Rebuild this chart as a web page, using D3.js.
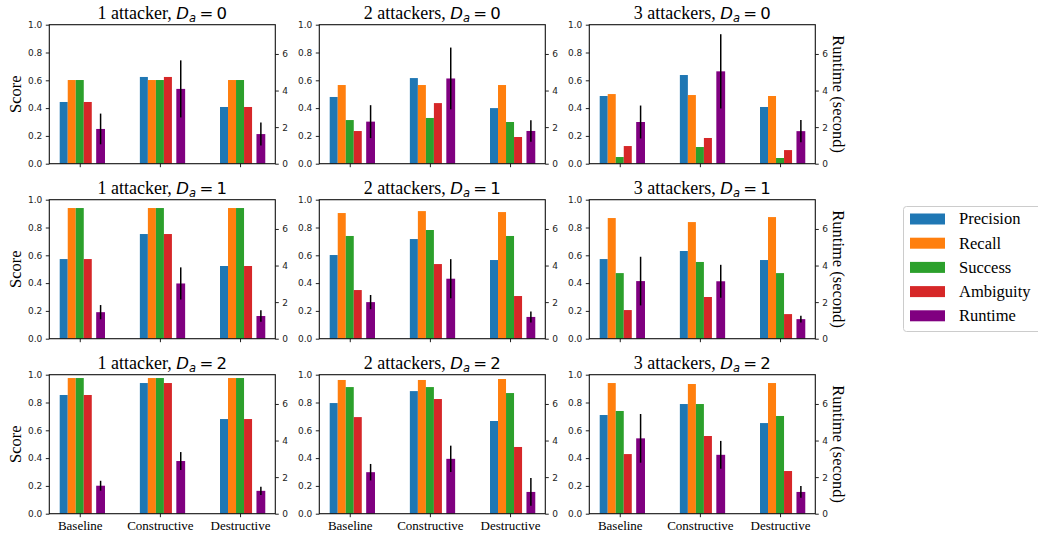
<!DOCTYPE html>
<html>
<head>
<meta charset="utf-8">
<script src="https://cdn.jsdelivr.net/npm/d3@7"></script>
<style>
  body { margin: 0; background: #fff; }
  svg { display: block; }
  .tick text { font-family: "DejaVu Sans", sans-serif; font-size: 9px; fill: #222; }
  .tick line { stroke: #222; stroke-width: 1; }
</style>
</head>
<body>
<svg width="1038" height="536"></svg>
<script>
const attackers = [1, 2, 3];
const distances = [0, 1, 2];
const methods = ["Baseline", "Constructive", "Destructive"];
const metrics = ["Precision", "Recall", "Success", "Ambiguity", "Runtime"];
const colors = ["#1f77b4", "#ff7f0e", "#2ca02c", "#d62728", "#800080"];
const scoreTicks = [0, 0.2, 0.4, 0.6, 0.8, 1.0];
const runtimeTicks = [0, 2, 4, 6];

// values indexed [D_a][attackers - 1][method]
const precision = [
  [[0.444, 0.624, 0.408], [0.480, 0.616, 0.400], [0.487, 0.638, 0.408]],
  [[0.573, 0.753, 0.523], [0.602, 0.717, 0.566], [0.573, 0.631, 0.566]],
  [[0.854, 0.940, 0.681], [0.796, 0.882, 0.667], [0.710, 0.789, 0.652]]
];
const recall = [
  [[0.602, 0.602, 0.602], [0.566, 0.566, 0.566], [0.501, 0.494, 0.487]],
  [[0.940, 0.940, 0.940], [0.904, 0.918, 0.911], [0.868, 0.839, 0.875]],
  [[0.976, 0.976, 0.976], [0.962, 0.962, 0.969], [0.940, 0.933, 0.940]]
];
const success = [
  [[0.602, 0.602, 0.602], [0.314, 0.329, 0.300], [0.048, 0.120, 0.041]],
  [[0.940, 0.940, 0.940], [0.739, 0.782, 0.739], [0.472, 0.552, 0.472]],
  [[0.976, 0.976, 0.976], [0.911, 0.911, 0.868], [0.739, 0.789, 0.703]]
];
const ambiguity = [
  [[0.444, 0.624, 0.408], [0.235, 0.436, 0.192], [0.127, 0.185, 0.098]],
  [[0.573, 0.753, 0.523], [0.350, 0.537, 0.307], [0.206, 0.300, 0.177]],
  [[0.854, 0.940, 0.681], [0.695, 0.825, 0.480], [0.429, 0.559, 0.307]]
];
const runtime = [
  [[1.90, 4.09, 1.62], [2.30, 4.66, 1.79], [2.28, 5.05, 1.78]],
  [[1.45, 3.02, 1.24], [2.00, 3.28, 1.19], [3.15, 3.14, 1.07]],
  [[1.53, 2.88, 1.25], [2.27, 3.00, 1.19], [4.12, 3.22, 1.19]]
];
const runtimeErr = [
  [[0.84, 1.56, 0.63], [0.90, 1.69, 0.59], [0.90, 2.03, 0.61]],
  [[0.39, 0.88, 0.31], [0.39, 1.07, 0.30], [1.33, 0.90, 0.18]],
  [[0.27, 0.49, 0.23], [0.45, 0.72, 0.76], [1.33, 0.76, 0.32]]
];

const svg = d3.select("svg");
const colLeft = [49.3, 319.3, 589.3];
const rowTop = [24.7, 199.7, 374.7];
const pw = 226, ph = 139;
const serif = "'Liberation Serif', 'Times New Roman', serif";
const mathFont = "'DejaVu Sans', sans-serif";

const x = d3.scaleLinear().domain([-0.38, 2.44]).range([0, pw]);
const yScore = d3.scaleLinear().domain([0, 1]).range([ph, 0]);
const yRun = d3.scaleLinear().domain([0, 7.6]).range([ph, 0]);
const offsets = [-0.2, -0.1, 0, 0.1];
const barW = 0.1, runOff = 0.26, runW = 0.11;
const scoreSets = [precision, recall, success, ambiguity];

distances.forEach((da, r) => {
  attackers.forEach((na, c) => {
    const g = svg.append("g").attr("transform", `translate(${colLeft[c]},${rowTop[r]})`);

    // score bars
    scoreSets.forEach((set, k) => {
      g.append("g").selectAll("rect")
        .data(set[r][c])
        .enter().append("rect")
        .attr("x", (d, i) => x(i + offsets[k] - barW / 2))
        .attr("width", x(barW) - x(0))
        .attr("y", d => yScore(d))
        .attr("height", d => ph - yScore(d))
        .attr("fill", colors[k]);
    });

    // runtime bars + error bars
    const rt = runtime[r][c].map((v, i) => ({v: v, e: runtimeErr[r][c][i], i: i}));
    g.append("g").selectAll("rect")
      .data(rt)
      .enter().append("rect")
      .attr("x", d => x(d.i + runOff - runW / 2))
      .attr("width", x(runW) - x(0))
      .attr("y", d => yRun(d.v))
      .attr("height", d => ph - yRun(d.v))
      .attr("fill", colors[4]);
    g.append("g").selectAll("line")
      .data(rt)
      .enter().append("line")
      .attr("x1", d => x(d.i + runOff))
      .attr("x2", d => x(d.i + runOff))
      .attr("y1", d => yRun(d.v + d.e))
      .attr("y2", d => yRun(Math.max(0, d.v - d.e)))
      .attr("stroke", "#000")
      .attr("stroke-width", 1.5);

    // axes
    const left = g.append("g").call(d3.axisLeft(yScore).tickValues(scoreTicks)
      .tickFormat(d3.format(".1f")).tickSizeOuter(0).tickSize(3.5).tickPadding(3.5));
    left.select(".domain").remove();
    const right = g.append("g").attr("transform", `translate(${pw},0)`)
      .call(d3.axisRight(yRun).tickValues(runtimeTicks).tickSize(3.5).tickPadding(3.5));
    right.select(".domain").remove();
    const bottom = g.append("g").attr("transform", `translate(0,${ph})`)
      .call(d3.axisBottom(x).tickValues([0, 1, 2]).tickSize(3.5).tickPadding(3.5)
        .tickFormat(i => r === 2 ? methods[i] : ""));
    bottom.select(".domain").remove();
    bottom.selectAll("text")
      .style("font-family", serif).style("font-size", "13px").style("fill", "#000");

    g.append("rect")
      .attr("width", pw).attr("height", ph)
      .attr("fill", "none").attr("stroke", "#111").attr("stroke-width", 1.1);

    // title
    const t = g.append("text")
      .attr("x", pw / 2).attr("y", -5.5)
      .attr("text-anchor", "middle").attr("fill", "#000");
    t.append("tspan").style("font-family", serif).style("font-size", "18px")
      .text(na + (na === 1 ? " attacker, " : " attackers, "));
    t.append("tspan").style("font-family", mathFont).style("font-size", "16.5px")
      .style("font-style", "italic").text("D");
    t.append("tspan").style("font-family", mathFont).style("font-size", "11.5px")
      .style("font-style", "italic").attr("dy", 3).text("a");
    t.append("tspan").style("font-family", mathFont).style("font-size", "16.5px")
      .attr("dy", -3).text("\u2009=\u2009" + da);

    if (c === 0) {
      g.append("text")
        .attr("transform", `translate(${15 - colLeft[0]},${ph / 2}) rotate(-90)`)
        .attr("text-anchor", "middle").attr("dy", "0.35em")
        .style("font-family", serif).style("font-size", "16.5px")
        .text("Score");
    }
    if (c === 2) {
      g.append("text")
        .attr("transform", `translate(${839 - colLeft[2]},${ph / 2}) rotate(90)`)
        .attr("text-anchor", "middle").attr("dy", "0.35em")
        .style("font-family", serif).style("font-size", "16.5px")
        .text("Runtime (second)");
    }
  });
});

// legend
const legend = svg.append("g").attr("transform", "translate(903.5,206.5)");
legend.append("rect")
  .attr("width", 150).attr("height", 125).attr("rx", 3)
  .attr("fill", "#fff").attr("stroke", "#ccc").attr("stroke-width", 1);
const items = legend.selectAll("g.item")
  .data(metrics)
  .enter().append("g")
  .attr("class", "item")
  .attr("transform", (d, i) => `translate(0,${12.5 + i * 24.2})`);
items.append("rect")
  .attr("x", 6.5).attr("y", -5.5).attr("width", 35).attr("height", 11)
  .attr("fill", (d, i) => colors[i]);
items.append("text")
  .attr("x", 55.5).attr("dy", "0.33em")
  .style("font-family", serif).style("font-size", "16.5px")
  .text(d => d);
</script>
</body>
</html>
